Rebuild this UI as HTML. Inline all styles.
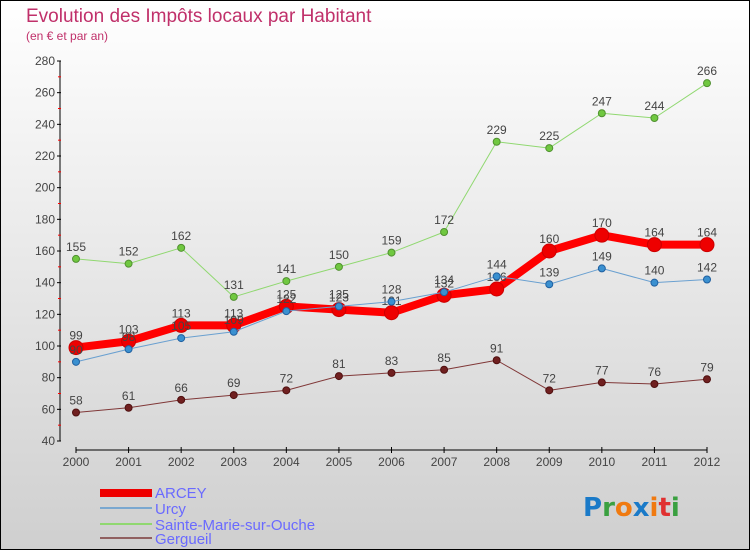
<!DOCTYPE html>
<html><head><meta charset="utf-8"><style>
body{margin:0}
#c{width:750px;height:550px;position:relative;box-sizing:border-box;border:1px solid #000;background:linear-gradient(#fff,#cfcfcf);font-family:"Liberation Sans",sans-serif;overflow:hidden}
</style></head><body>
<div id="c">
<svg width="750" height="550" style="position:absolute;left:-1px;top:-1px" id="svg">
<text x="26" y="22" font-size="19" fill="#c0306a">Evolution des Impôts locaux par Habitant</text>
<text x="26" y="40" font-size="12" fill="#c0306a">(en € et par an)</text>
<g id="axes"></g><g id="series"></g>
<g font-size="15" fill="#6a6aff">
<rect x="100" y="489" width="52" height="8" fill="#e00"/>
<text x="155" y="498">ARCEY</text>
<rect x="100" y="507" width="52" height="2" fill="#7aa8d0"/>
<text x="155" y="514">Urcy</text>
<rect x="100" y="523" width="52" height="2" fill="#90d870"/>
<text x="155" y="530">Sainte-Marie-sur-Ouche</text>
<rect x="100" y="537" width="52" height="2" fill="#906060"/>
<text x="155" y="544">Gergueil</text>
</g>
<text x="583" y="516" font-size="26" font-family="DejaVu Sans" font-weight="bold"><tspan fill="#1a7ac8">P</tspan><tspan fill="#3aa040">r</tspan><tspan fill="#f07a10">o</tspan><tspan fill="#1a7ac8">x</tspan><tspan fill="#f07a10">i</tspan><tspan fill="#e03030">t</tspan><tspan fill="#3aa040">i</tspan></text>
</svg>
</div>
<script>
const years=[2000,2001,2002,2003,2004,2005,2006,2007,2008,2009,2010,2011,2012];
const yTicks=[40,60,80,100,120,140,160,180,200,220,240,260,280];
const arcey=[99,103,113,113,125,123,121,132,136,160,170,164,164];
const urcy=[90,98,105,109,122,125,128,134,144,139,149,140,142];
const sainteMarie=[155,152,162,131,141,150,159,172,229,225,247,244,266];
const gergueil=[58,61,66,69,72,81,83,85,91,72,77,76,79];
const NS="http://www.w3.org/2000/svg";
const X=i=>76+i*(707-76)/12;
const Y=v=>441-(v-40)*(441-61)/240;
function mk(t,a,p){const e=document.createElementNS(NS,t);for(const k in a)e.setAttribute(k,a[k]);p.appendChild(e);return e;}
const ax=document.getElementById('axes');
const yl=mk('line',{x1:60,y1:61,x2:60,y2:441,stroke:'#000'},ax);


yTicks.forEach(v=>{
 mk('line',{x1:57,x2:61,y1:Y(v),y2:Y(v),stroke:'#000'},ax);
 if(v<280) mk('line',{x1:58,x2:61,y1:Y(v+10),y2:Y(v+10),stroke:'#f00'},ax);
 const t=mk('text',{x:55,y:Y(v)+4,'text-anchor':'end','font-size':12,fill:'#444'},ax);t.textContent=v;
 
 
});
const xl=mk('line',{x1:X(0),y1:450,x2:X(12),y2:450,stroke:'#000'},ax);


years.forEach((y,i)=>{
 mk('line',{x1:X(i),x2:X(i),y1:447,y2:453,stroke:'#000'},ax);
 const t=mk('text',{x:X(i),y:466,'text-anchor':'middle','font-size':12,fill:'#444'},ax);t.textContent=y;
 
 
});
const sg=document.getElementById('series');
function draw(d,name,color,w,r,dot,stroke){
 const g=mk('g',{},sg);
 
 
 const p=mk('polyline',{points:d.map((v,i)=>X(i)+','+Y(v)).join(' '),fill:'none',stroke:color,'stroke-width':w,'stroke-linejoin':'round'},g);
 
 
 d.forEach((v,i)=>{
  const c=mk('circle',{cx:X(i),cy:Y(v),r:r,fill:dot,stroke:stroke,'stroke-width':1},g);
  
  
  const t=mk('text',{x:X(i),y:Y(v)-8,'text-anchor':'middle','font-size':12,fill:'#444'},g);t.textContent=v;
  
  
 });
}
draw(gergueil,'gergueil','#803838',1,3.5,'#702020','#501010');
draw(sainteMarie,'sainte-marie','#90d870',1,3.5,'#70c840','#509030');
draw(arcey,'arcey','#f00',8,7,'#e00','#c00');
draw(urcy,'urcy','#6aa0d0',1,3.5,'#3a90d0','#2060a0');
</script>
</body></html>
